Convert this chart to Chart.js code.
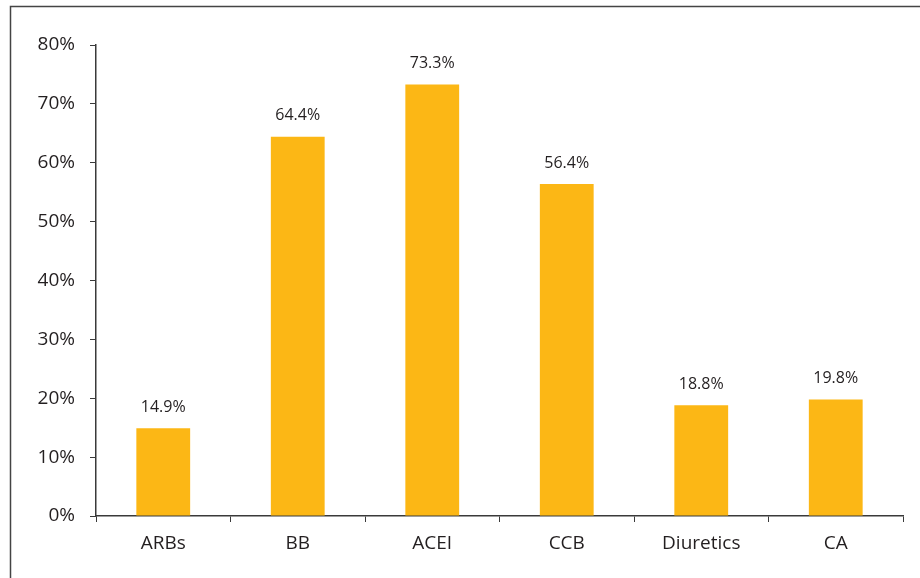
<!DOCTYPE html>
<html lang="en">
<head>
  <meta charset="UTF-8">
  <title>Antihypertensive use</title>
  <script src="https://cdn.jsdelivr.net/npm/chart.js"></script>
  <style>
    html, body { margin: 0; padding: 0; background: #fff; }
    #wrap { width: 920px; height: 578px; }
  </style>
</head>
<body>
  <div id="wrap"><canvas id="drugChart" width="920" height="578"></canvas></div>

  <script>
    // Data
    const drugClasses = ['ARBs', 'BB', 'ACEI', 'CCB', 'Diuretics', 'CA'];
    const usePercent = [14.9, 64.4, 73.3, 56.4, 18.8, 19.8];
    const yTicks = [0, 10, 20, 30, 40, 50, 60, 70, 80];

    const ink = '#231f20';
    const axisColor = '#3a3a3a';
    const fontFamily = '"Open Sans", "Noto Sans", sans-serif';

    // Frame around the figure (cut by the right and bottom edge)
    const framePlugin = {
      id: 'frame',
      beforeDraw(chart) {
        const c = chart.ctx;
        c.save();
        c.strokeStyle = '#444';
        c.lineWidth = 1.5;
        c.beginPath();
        c.moveTo(10.5, chart.height + 2);
        c.lineTo(10.5, 6.5);
        c.lineTo(chart.width + 2, 6.5);
        c.stroke();
        c.restore();
      }
    };

    // Percent labels above each bar
    const valueLabels = {
      id: 'valueLabels',
      afterDatasetsDraw(chart) {
        const c = chart.ctx;
        const meta = chart.getDatasetMeta(0);
        c.save();
        c.fillStyle = ink;
        c.font = '16px ' + fontFamily;
        c.textAlign = 'center';
        c.textBaseline = 'middle';
        meta.data.forEach((bar, i) => {
          c.fillText(usePercent[i].toFixed(1) + '%', bar.x, bar.y - 21);
        });
        c.restore();
      }
    };

    new Chart(document.getElementById('drugChart'), {
      type: 'bar',
      data: {
        labels: drugClasses,
        datasets: [{
          data: usePercent,
          backgroundColor: '#fcb715',
          borderWidth: 0,
          categoryPercentage: 1,
          barPercentage: 0.4
        }]
      },
      options: {
        responsive: false,
        animation: false,
        layout: { padding: { left: 0, right: 17, top: 45, bottom: 0 } },
        plugins: {
          legend: { display: false },
          tooltip: { enabled: false }
        },
        scales: {
          x: {
            afterFit: s => { s.height = 62; },
            grid: {
              offset: true,
              drawOnChartArea: false,
              drawTicks: true,
              tickLength: 6,
              color: axisColor
            },
            border: { color: axisColor, width: 1.5 },
            ticks: {
              color: ink,
              padding: 10,
              font: { family: fontFamily, size: 19 }
            }
          },
          y: {
            min: 0,
            max: 80,
            afterFit: s => { s.width = 96; },
            afterBuildTicks: s => { s.ticks = yTicks.map(v => ({ value: v })); },
            grid: {
              drawOnChartArea: false,
              drawTicks: true,
              tickLength: 6,
              color: axisColor
            },
            border: { color: axisColor, width: 1.5 },
            ticks: {
              color: ink,
              padding: 15,
              font: { family: fontFamily, size: 19 },
              callback: v => v + '%'
            }
          }
        }
      },
      plugins: [framePlugin, valueLabels]
    });
  </script>
</body>
</html>
